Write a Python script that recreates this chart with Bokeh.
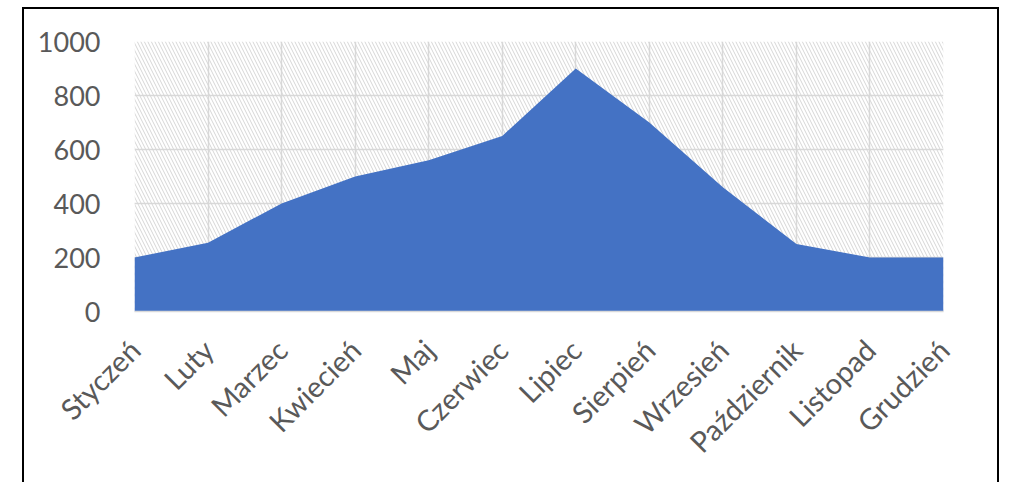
from math import pi
from bokeh.plotting import figure
from bokeh.models import Range1d, FixedTicker, BoxAnnotation
from bokeh.embed import file_html
from bokeh.resources import INLINE

months = ["Styczeń", "Luty", "Marzec", "Kwiecień", "Maj", "Czerwiec",
          "Lipiec", "Sierpień", "Wrzesień", "Październik", "Listopad", "Grudzień"]
values = [200, 255, 400, 500, 560, 650, 900, 700, 460, 250, 200, 200]
y_ticks = [0, 200, 400, 600, 800, 1000]

x = list(range(len(months)))

FONT = "Lato"
GRID = "#d9d9d9"
LABEL = "#595959"

p = figure(width=977, height=475, output_backend="svg", toolbar_location=None,
           x_range=Range1d(0, len(months) - 1), y_range=Range1d(0, 1000),
           min_border_left=110, min_border_right=58, min_border_top=32,
           min_border_bottom=173, outline_line_color=None,
           background_fill_color="white", border_fill_color="white")
p.margin = (7, 0, 0, 22)
p.styles = {"border-left": "2px solid black", "border-top": "2px solid black",
            "border-right": "2px solid black"}

bg = BoxAnnotation(fill_alpha=0, line_alpha=0, hatch_pattern="\\",
                   hatch_color="#d6d6d6", hatch_scale=7, hatch_weight=1,
                   level="underlay")
p.add_layout(bg)

p.varea(x=x, y1=[0] * len(x), y2=values, fill_color="#4472C4")

p.xaxis.ticker = FixedTicker(ticks=x)
p.xaxis.major_label_overrides = {i: m for i, m in enumerate(months)}
p.xaxis.major_label_orientation = pi / 4
p.xaxis.axis_line_color = GRID
p.xaxis.axis_line_width = 1.5
p.xaxis.major_tick_line_color = None
p.xaxis.minor_tick_line_color = None
p.xaxis.major_label_standoff = 27
p.xaxis.major_label_text_font_size = "29px"

p.yaxis.ticker = FixedTicker(ticks=y_ticks)
p.yaxis.axis_line_color = None
p.yaxis.major_tick_line_color = None
p.yaxis.minor_tick_line_color = None
p.yaxis.major_label_standoff = 28
p.yaxis.major_label_text_font_size = "27px"

for ax in (p.xaxis, p.yaxis):
    ax.major_label_text_font = FONT
    ax.major_label_text_color = LABEL

p.xgrid.ticker = FixedTicker(ticks=x)
p.ygrid.ticker = FixedTicker(ticks=y_ticks)
for g in (p.xgrid, p.ygrid):
    g.grid_line_color = GRID
    g.grid_line_width = 1.5

open("out.html", "w").write(file_html(p, INLINE))
